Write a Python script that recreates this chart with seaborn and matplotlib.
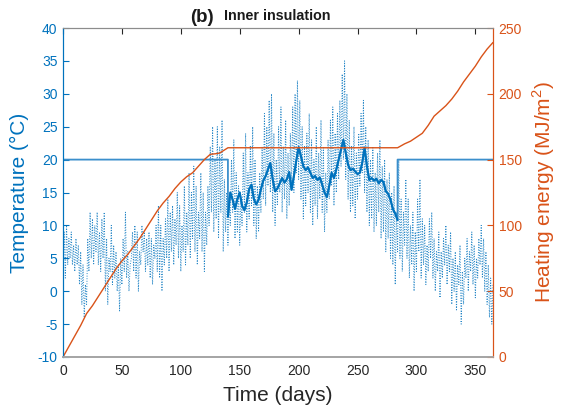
import numpy as np
import pandas as pd
import matplotlib
matplotlib.use("Agg")
import matplotlib.pyplot as plt
import seaborn as sns

# outdoor temperature, daily low / high, every 2 days (day 0..364)
out_lo = [3, 2, 4, 5, 4, 3, 4, 1, -2, -4, -2, 3, 5, 4, 6, 4, 3, 5, 0, -2,
          3, 1, 2, 0, -3, 1, 3, 2, 0, 5, 3, 2, 0, 4, 6, 3, 4, 2, 1, 5,
          3, 2, 0, 4, 5, 3, 6, 4, 7, 5, 3, 6, 4, 7, 5, 8, 6, 4, 8, 6,
          3, 7, 10, 12, 9, 11, 8, 12, 6, 9, 7, 10, 12, 8, 9, 7, 10, 12, 9, 11,
          13, 10, 8, 9, 12, 14, 13, 16, 15, 12, 10, 13, 15, 12, 14, 11, 13, 16, 15, 18,
          17, 14, 11, 13, 15, 12, 10, 13, 11, 14, 12, 9, 12, 14, 16, 13, 15, 17, 19, 20,
          17, 14, 12, 13, 11, 14, 16, 18, 15, 12, 10, 11, 9, 10, 12, 8, 9, 6, 8, 5,
          4, 1, 6, 5, 3, 7, 5, 2, 4, 0, 3, 6, 2, 4, 1, 3, 5, 2, 0, 3,
          -1, 2, 4, 1, 3, -2, 0, -3, 1, -5, -2, 2, 0, 3, 1, -1, 2, 4, 2, 0,
          -2, -4, -5]
out_hi = [9, 10, 8, 9, 7, 8, 7, 6, 4, 1, 8, 12, 11, 10, 12, 9, 11, 12, 8, 5,
          10, 7, 6, 4, 5, 8, 12, 6, 4, 9, 10, 9, 6, 10, 9, 8, 9, 8, 7, 10,
          13, 10, 8, 11, 14, 12, 13, 11, 15, 13, 10, 16, 12, 18, 15, 19, 16, 12, 18, 15,
          12, 16, 22, 25, 20, 25, 22, 26, 17, 15, 14, 20, 23, 18, 16, 14, 21, 24, 18, 22,
          25, 20, 16, 18, 22, 27, 25, 29, 30, 24, 20, 25, 28, 22, 26, 21, 24, 28, 30, 32,
          29, 25, 22, 24, 27, 23, 20, 25, 21, 26, 22, 18, 23, 26, 28, 24, 27, 29, 33, 35,
          30, 26, 22, 25, 21, 24, 27, 29, 25, 23, 20, 22, 18, 21, 23, 19, 20, 17, 18, 15,
          16, 12, 20, 14, 12, 17, 14, 10, 12, 9, 14, 17, 11, 10, 7, 11, 12, 8, 6, 9,
          6, 8, 10, 7, 9, 5, 6, 4, 7, 3, 5, 8, 6, 9, 7, 5, 8, 10, 8, 6,
          4, 2, 1]
out_days = np.arange(0, 2 * len(out_lo), 2)

# indoor temperature while free floating (summer), every 2 days from day 140
in_summer = [11.3, 15, 13.9, 12.5, 14, 15, 13, 12.3, 13.5, 15.5, 16.2, 14, 13.2, 13.9,
             15.5, 16.8, 17.5, 18.5, 19.5, 17, 15.2, 15.6, 16.4, 17.2, 16.5, 17, 18.1,
             15.4, 17.5, 19.8, 21.9, 20.5, 19, 18.4, 18.8, 18, 17.2, 17.5, 16.9, 17.3,
             16.2, 15, 14.3, 16, 18, 17.2, 18.5, 20, 21.5, 23, 21, 19.2, 18.4, 18.6,
             18.2, 17.8, 18, 19.5, 21.8, 19, 16.9, 17.2, 16.8, 17.1, 16.4, 16.9, 16.6,
             15.2, 14.8, 13.9, 12.5, 11.8, 10.8]
summer_days = 140 + np.arange(0, 2 * len(in_summer), 2)
setpoint = 20

# cumulative heating energy (MJ/m2)
heat_days = [0, 5, 10, 15, 20, 25, 30, 35, 40, 45, 50, 55, 60, 65, 70, 75, 80, 85, 90,
             95, 100, 105, 110, 115, 120, 125, 130, 133, 140, 284, 290, 295, 300, 305,
             310, 315, 320, 325, 330, 335, 340, 345, 350, 355, 360, 365]
heat_energy = [0, 8, 16, 24, 33, 39, 46, 53, 60, 67, 73, 78, 84, 90, 97, 104, 111, 117,
               122, 128, 133, 137, 140, 145, 150, 154, 154.5, 155, 159, 159, 162, 164,
               167, 170, 176, 183, 187, 191, 196, 202, 209, 215, 221, 228, 234, 239]

blue = "#0072BD"
orange = "#D95319"

sns.set_style("white")
plt.rcParams["font.family"] = ["Liberation Sans", "DejaVu Sans"]
plt.rcParams["mathtext.fontset"] = "custom"
plt.rcParams["mathtext.rm"] = "Liberation Sans"
plt.rcParams["axes.unicode_minus"] = False

fig = plt.figure(figsize=(5.62, 4.12), dpi=100)
ax = fig.add_axes([63 / 562, 1 - 357 / 412, 430 / 562, 329 / 412])
ax2 = ax.twinx()

# outdoor: zigzag between daily low and high
outdoor = pd.DataFrame({
    "day": np.ravel(np.column_stack([out_days, out_days + 1])),
    "T": np.ravel(np.column_stack([out_lo, out_hi])),
})
sns.lineplot(data=outdoor, x="day", y="T", ax=ax, color=blue, lw=0.7,
             linestyle=":", alpha=0.85, estimator=None, sort=False)

# indoor: setpoint in heating season, free floating in summer
indoor = pd.DataFrame({
    "day": np.concatenate([[0, summer_days[0]], summer_days, [summer_days[-1], 365]]),
    "T": np.concatenate([[setpoint, setpoint], in_summer, [setpoint, setpoint]]),
})
sns.lineplot(data=indoor, x="day", y="T", ax=ax, color="#3b8fcc", lw=1.3,
             estimator=None, sort=False)
summer = pd.DataFrame({"day": summer_days, "T": in_summer})
sns.lineplot(data=summer, x="day", y="T", ax=ax, color=blue, lw=1.5,
             estimator=None, sort=False)

heat = pd.DataFrame({"day": heat_days, "E": heat_energy})
sns.lineplot(data=heat, x="day", y="E", ax=ax2, color=orange, lw=1.0,
             estimator=None, sort=False)

ax.set_xlim(0, 365)
ax.set_ylim(-10, 40)
ax2.set_ylim(0, 250)
ax.set_xticks(range(0, 351, 50))
ax.set_yticks(range(-10, 41, 5))
ax2.set_yticks(range(0, 251, 50))

ax.set_xlabel("Time (days)", fontsize=15, color="#262626", labelpad=6)
ax.set_ylabel("Temperature (°C)", fontsize=15, color=blue, labelpad=6)
ax2.set_ylabel("Heating energy (MJ/m$^2$)", fontsize=15, color=orange, labelpad=6)

ax.tick_params(axis="x", direction="in", length=4, colors="#262626", labelsize=10,
               top=True, pad=5)
ax.tick_params(axis="y", direction="in", length=4, colors=blue, labelsize=10, pad=4)
ax2.tick_params(axis="y", direction="in", length=4, colors=orange, labelsize=10, pad=4)

for a in (ax, ax2):
    a.spines["bottom"].set_color("#a6a6a6")
    a.spines["bottom"].set_linewidth(1.3)
    a.spines["top"].set_color("#8c8c8c")
    a.spines["top"].set_linewidth(0.8)
    a.spines["left"].set_color(blue)
    a.spines["left"].set_linewidth(0.8)
    a.spines["right"].set_color(orange)
    a.spines["right"].set_linewidth(0.8)

fig.text(190 / 562, 1 - 22 / 412, "(b)", fontsize=13.5, fontweight="bold",
         color="#1a1a1a", va="baseline")
fig.text(224 / 562, 1 - 20 / 412, "Inner insulation", fontsize=10.3,
         fontweight="bold", color="#1a1a1a", va="baseline")

fig.savefig("out.png", dpi=100)
